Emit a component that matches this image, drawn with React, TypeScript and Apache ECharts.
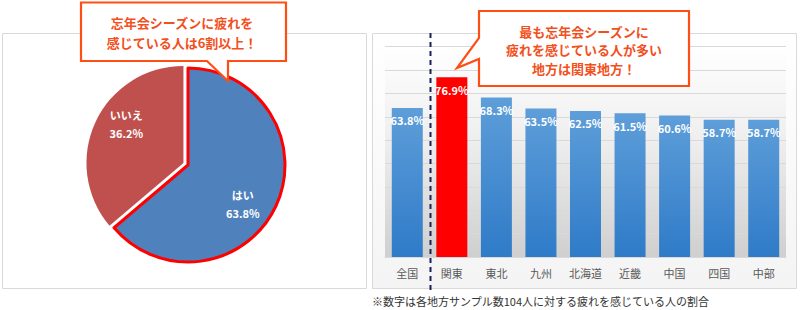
import React, { useEffect, useRef } from "react";
import * as echarts from "echarts";

const pieNames = ["はい", "いいえ"];
const pieValues = [63.8, 36.2];

const regions = ["全国", "関東", "東北", "九州", "北海道", "近畿", "中国", "四国", "中部"];
const regionValues = [63.8, 76.9, 68.3, 63.5, 62.5, 61.5, 60.6, 58.7, 58.7];
const highlightRegion = "関東";

const callout1 = ["忘年会シーズンに疲れを", "感じている人は6割以上！"];
const callout2 = ["最も忘年会シーズンに", "疲れを感じている人が多い", "地方は関東地方！"];
const note = "※数字は各地方サンプル数104人に対する疲れを感じている人の割合";

const JP = '"Noto Sans CJK JP", "Noto Sans", sans-serif';
const ORANGE = "#ff4e14";
const ORANGE_TEXT = "#f2501c";

export default function App() {
  const ref = useRef<HTMLDivElement>(null);

  useEffect(() => {
    if (!ref.current) return;
    const chart = echarts.init(ref.current, undefined, { renderer: "svg" });

    const barGradient = new echarts.graphic.LinearGradient(0, 0, 0, 1, [
      { offset: 0, color: "#5e9ed9" },
      { offset: 1, color: "#2f7bc8" },
    ]);

    const pieColors = ["#4f81bd", "#c0504d"];
    const labelOffsets = [
      [8, 17],
      [-15, -19],
    ];

    const option: any = {
      animation: false,
      textStyle: { fontFamily: JP },
      grid: {
        left: 385,
        right: 14,
        top: 46.7,
        bottom: 53,
        show: true,
        borderWidth: 0,
        backgroundColor: new echarts.graphic.LinearGradient(0, 0, 0, 1, [
          { offset: 0, color: "#ffffff" },
          { offset: 0.45, color: "#eeeeee" },
          { offset: 1, color: "#cfcfcf" },
        ]),
      },
      xAxis: {
        type: "category",
        data: regions,
        axisTick: { show: false },
        axisLine: { lineStyle: { color: "#d9d9d9" } },
        axisLabel: { color: "#595959", fontSize: 11, margin: 10, fontFamily: JP },
      },
      yAxis: {
        type: "value",
        min: 0,
        max: 90,
        interval: 10,
        axisLabel: { show: false },
        axisLine: { show: false },
        axisTick: { show: false },
        splitLine: { lineStyle: { color: "#d9d9d9" } },
      },
      series: [
        {
          type: "pie",
          center: [188, 165],
          radius: 97,
          startAngle: 90,
          clockwise: true,
          selectedMode: "single",
          selectedOffset: 5,
          z: 3,
          silent: true,
          label: { show: false },
          labelLine: { show: false },
          data: pieNames.map((n, i) => ({
            name: n,
            value: pieValues[i],
            selected: i === 1,
            itemStyle:
              i === 0
                ? { color: pieColors[0], borderColor: "#ff0000", borderWidth: 3 }
                : { color: pieColors[1], borderWidth: 0 },
            select: {
              itemStyle:
                i === 0
                  ? { color: pieColors[0], borderColor: "#ff0000", borderWidth: 3 }
                  : { color: pieColors[1], borderWidth: 0 },
            },
          })),
        },
        {
          type: "pie",
          center: [188, 165],
          radius: 97,
          startAngle: 90,
          clockwise: true,
          z: 4,
          silent: true,
          itemStyle: { color: "rgba(0,0,0,0)", borderWidth: 0 },
          label: {
            show: true,
            position: "inside",
            color: "#ffffff",
            fontSize: 11,
            fontWeight: "bold",
            lineHeight: 18,
            fontFamily: JP,
            formatter: (p: any) => `${p.name}\n${p.value}%`,
          },
          labelLine: { show: false },
          data: pieNames.map((n, i) => ({
            name: n,
            value: pieValues[i],
            label: { offset: labelOffsets[i] },
          })),
        },
        {
          type: "bar",
          barWidth: 31,
          z: 3,
          label: {
            show: true,
            position: "insideTop",
            distance: 7,
            color: "#ffffff",
            fontSize: 11,
            fontWeight: "bold",
            fontFamily: JP,
            formatter: "{c}%",
          },
          data: regionValues.map((v, i) => ({
            value: v,
            itemStyle: { color: regions[i] === highlightRegion ? "#ff0000" : barGradient },
          })),
        },
      ],
    };

    chart.setOption(option);

    const x0 = chart.convertToPixel({ xAxisIndex: 0 }, regions[0]) as number;
    const x1 = chart.convertToPixel({ xAxisIndex: 0 }, regions[1]) as number;
    const divX = Math.round((x0 + x1) / 2) + 0.5;

    const calloutText = (lines: string[], cx: number, y0: number, lh: number) =>
      lines.map((t, i) => ({
        type: "text",
        x: cx,
        y: y0 + i * lh,
        z: 101,
        style: {
          text: t,
          fill: ORANGE_TEXT,
          font: `bold 13px ${JP}`,
          textAlign: "center",
          textVerticalAlign: "middle",
        },
      }));

    chart.setOption({
      graphic: [
        {
          type: "rect",
          z: -10,
          shape: { x: 2.5, y: 33.5, width: 364, height: 255 },
          style: { fill: "#ffffff", stroke: "#d9d9d9", lineWidth: 1 },
        },
        {
          type: "rect",
          z: -10,
          shape: { x: 372.5, y: 33.5, width: 424, height: 255 },
          style: {
            fill: new echarts.graphic.LinearGradient(0, 0, 0, 1, [
              { offset: 0, color: "#ffffff" },
              { offset: 1, color: "#f4f4f4" },
            ]),
            stroke: "#d9d9d9",
            lineWidth: 1,
          },
        },
        {
          type: "line",
          z: 50,
          shape: { x1: divX, y1: 33, x2: divX, y2: 292 },
          style: { stroke: "#1b2156", lineWidth: 2, lineDash: [5, 4] },
        },
        {
          type: "polygon",
          z: 100,
          shape: {
            points: [
              [81, 2.5],
              [286, 2.5],
              [286, 61],
              [228, 61],
              [228, 81],
              [207, 61],
              [81, 61],
            ],
          },
          style: { fill: "#ffffff", stroke: ORANGE, lineWidth: 2.2, lineJoin: "miter" },
        },
        ...calloutText(callout1, 182, 22, 20),
        {
          type: "polygon",
          z: 100,
          shape: {
            points: [
              [479, 11],
              [689, 11],
              [689, 86],
              [479, 86],
              [479, 59],
              [457, 68],
              [479, 38],
            ],
          },
          style: { fill: "#ffffff", stroke: ORANGE, lineWidth: 2.2, lineJoin: "miter" },
        },
        ...calloutText(callout2, 584, 31, 18.5),
        {
          type: "text",
          x: 372,
          y: 301,
          z: 60,
          style: {
            text: note,
            fill: "#333333",
            font: `11px ${JP}`,
            textVerticalAlign: "middle",
          },
        },
      ],
    });

    return () => chart.dispose();
  }, []);

  return (
    <div
      ref={ref}
      style={{ position: "fixed", left: 0, top: 0, width: 800, height: 310, background: "#ffffff" }}
    />
  );
}
